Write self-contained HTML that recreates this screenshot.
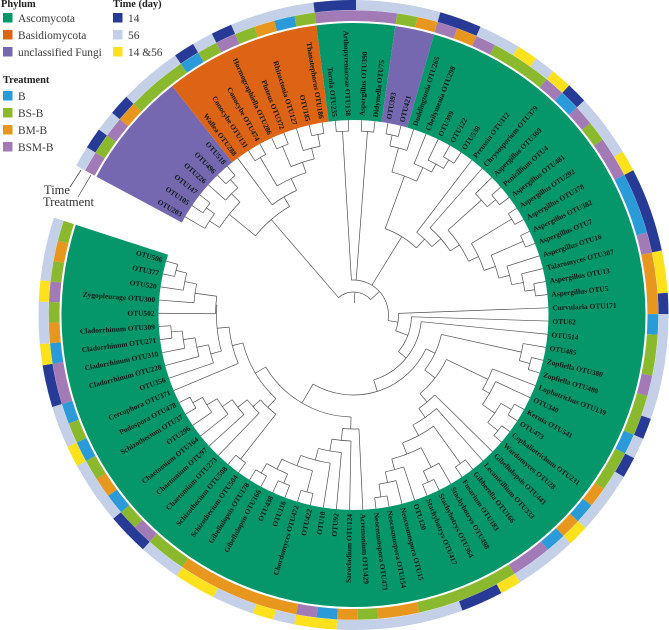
<!DOCTYPE html>
<html>
<head>
<meta charset="utf-8">
<title>Fungal OTU phylogeny</title>
<style>
html,body{margin:0;padding:0;background:#fff;}
svg{display:block;}
.leg{font-family:"Liberation Serif",serif;font-size:11.4px;fill:#3a3a3a;}
.legt{font-family:"Liberation Serif",serif;font-size:10.4px;font-weight:bold;fill:#222;}
.tip{font-family:"Liberation Serif",serif;font-size:7.4px;font-weight:bold;fill:#0c1a14;}
.note{font-family:"Liberation Serif",serif;font-size:12.5px;fill:#333;}
</style>
</head>
<body>
<svg id="chart" width="669" height="630" viewBox="0 0 669 630" xmlns="http://www.w3.org/2000/svg">
  <rect width="669" height="630" fill="#fff"/>
  <g id="sectors"></g>
  <g id="treatRing"></g>
  <g id="timeRing"></g>
  <g id="labels"></g>
  <g id="tree" fill="none" stroke="#505050" stroke-width="0.7"></g>

  <g>
    <line x1="81" y1="170" x2="70" y2="187" stroke="#444" stroke-width=".7"/>
    <line x1="91" y1="175" x2="78" y2="197" stroke="#444" stroke-width=".7"/>
    <text class="note" x="44" y="194">Time</text>
    <text class="note" x="43" y="206">Treatment</text>
  </g>

  <g>
    <text class="legt" x="1" y="7">Phylum</text>
    <rect x="3" y="13" width="9.5" height="9.5" fill="#05976a"/>
    <text class="leg" x="18" y="22">Ascomycota</text>
    <rect x="3" y="30" width="9.5" height="9.5" fill="#dd6414"/>
    <text class="leg" x="18" y="39">Basidiomycota</text>
    <rect x="3" y="47" width="9.5" height="9.5" fill="#7568b1"/>
    <text class="leg" x="18" y="56">unclassified Fungi</text>
  </g>
  <g>
    <text class="legt" x="113" y="7">Time (day)</text>
    <rect x="113" y="13" width="9.5" height="9.5" fill="#263a96"/>
    <text class="leg" x="128" y="22">14</text>
    <rect x="113" y="30" width="9.5" height="9.5" fill="#c3d0e8"/>
    <text class="leg" x="128" y="39">56</text>
    <rect x="113" y="47" width="9.5" height="9.5" fill="#fde11c"/>
    <text class="leg" x="128" y="56">14 &amp;56</text>
  </g>
  <g>
    <text class="legt" x="3" y="83">Treatment</text>
    <rect x="3" y="91" width="9.5" height="9.5" fill="#2a9bd8"/>
    <text class="leg" x="18" y="100">B</text>
    <rect x="3" y="108" width="9.5" height="9.5" fill="#8bb92e"/>
    <text class="leg" x="18" y="117">BS-B</text>
    <rect x="3" y="125" width="9.5" height="9.5" fill="#e8971e"/>
    <text class="leg" x="18" y="134">BM-B</text>
    <rect x="3" y="142" width="9.5" height="9.5" fill="#a27ab5"/>
    <text class="leg" x="18" y="151">BSM-B</text>
  </g>
</svg>

<script>
// ---- data ----
const tipNames = [
"OTU203","OTU105","OTU147","OTU226","OTU496","OTU518",
"Wallea OTU288","Conocybe OTU131","Conocybe OTU474","Hormographiella OTU286","Pluteus OTU372","Rhizoctonia OTU127","OTU185","Thanatephorus OTU186",
"Torula OTU235","Arthopyreniaceae OTU138","Aspergillus OTU390","Didymella OTU75",
"OTU393","OTU421",
"Duddingtonia OTU265","Cheilymenia OTU298","OTU399","OTU122","OTU538","Preussia OTU112","Chrysosporium OTU379","Aspergillus OTU369","Penicillium OTU4","Aspergillus OTU481","Aspergillus OTU292","Aspergillus OTU378","Aspergillus OTU382","Aspergillus OTU7","Aspergillus OTU16","Talaromyces OTU307","Aspergillus OTU13","Aspergillus OTU5","Curvularia OTU171","OTU62","OTU514","OTU485","Zopfiella OTU380","Zopfiella OTU480","Lophotrichus OTU139","OTU340","Kernia OTU541","OTU473","Cephaliotrichum OTU231","Wardomyces OTU28","Gibellulopsis OTU441","Lecanicillium OTU333","Gibberella OTU166","Fusarium OTU183","Stachybotrys OTU498","Stachybotrys OTU364","Stachybotrys OTU417","OTU120","Neocosmospora OTU15","Neocosmospora OTU154","Neocosmospora OTU471","Acremonium OTU429","Sarocladium OTU124","OTU92","OTU10","OTU422","Chordomyces OTU472","OTU116","OTU438","Gibellulopsis OTU166","Gibellulopsis OTU178","Schizothecium OTU504","Schizothecium OTU508","Chaetomium OTU273","Chaetomium OTU97","Chaetomium OTU164","OTU296","Schizothecium OTU37","Podospora OTU478","Cercophora OTU371","OTU356","Cladorrhinum OTU228","Cladorrhinum OTU310","Cladorrhinum OTU271","Cladorrhinum OTU309","OTU502","Zygopleurage OTU300","OTU520","OTU377","OTU506"];

const phylumValues = [
"U","U","U","U","U","U",
"B","B","B","B","B","B","B","B",
"A","A","A","A",
"U","U",
"A","A","A","A","A","A","A","A","A","A","A","A","A","A","A","A","A","A","A","A",
"A","A","A","A","A","A","A","A","A","A","A","A","A","A","A","A","A","A","A","A",
"A","A","A","A","A","A","A","A","A","A","A","A","A","A","A","A","A","A","A","A",
"A","A","A","A","A","A","A","A","A","A"];

const treatmentValues = [
"BSM","BS","BSM","BM","BS","BS","BS","B","BS","BSM",
"BS","BM","B","BS","BSM","BSM","BSM","BSM","BS","BM",
"BSM","BM","BSM","BS","BS","BS","BSM","B","BSM","BS",
"BSM","BSM","B","B","B","BSM","BM","BM","BM","B",
"BS","BS","BSM","BS","BS","B","BS","BS","BM","B",
"BM","B","BSM","BSM","BS","BS","BS","BS","BS","BM",
"BM","BS","BM","B","BSM","BM","BM","BM","BM","BM",
"BM","BS","BS","BSM","BS","B","BM","BS","B","BS",
"B","BSM","BSM","B","BM","BS","BSM","BS","BM","BS"];

const timeValues = [
"56","14","56","14","56","56","56","14","56","14",
"56","56","56","56","14","14","56","56","56","56",
"14","14","56","56","both","56","both","14","56","56",
"56","both","14","14","14","14","both","both","14","56",
"56","56","56","56","14","56","14","56","56","56",
"both","56","56","56","both","14","14","56","56","56",
"56","56","56","both","both","56","both","56","56","both",
"both","56","56","14","14","56","56","56","both","56",
"56","14","14","both","56","56","both","56","56","56"];

// Tree: [branch depth, child, child...]; a numeric child is an index into tipNames.
const purpleClade = [160,[172,0,[182,1,2]],[172,3,[183,4,5]]];
const orangeClade = [137,6,[150,[183,7,8],[161,[183,9,10],[172,11,[184,12,13]]]]];
const leftClade = [126,purpleClade,orangeClade];
const upperClade = [92,
  [148,[173,[184,18,19],20],[163,21,[172,22,[182,23,24]]]],
  [104,25,[116,26,[127,[172,27,[183,28,29]],[138,[185,30,31],[150,[185,32,33],[161,34,[173,35,[183,36,37]]]]]]]]];
const clade103 = [103,
  [149,44,[157,45,[172,[184,46,47],[185,48,49]]]],
  [114,50,[125,51,[137,[183,52,53],[149,[171,54,[183,55,56]],[160,57,[171,58,[184,59,60]]]]]]]];
const clade90 = [90,[172,41,[183,42,43]],clade103];
const bottomClade = [114,61,[126,62,[138,63,[150,64,[161,[183,65,66],[172,[182,67,68],[183,69,70]]]]]]];
const chaetClade = [126,[183,71,72],[136,73,[148,74,[160,75,[172,76,[183,77,78]]]]]];
const cladoClade = [148,80,[160,81,[172,82,[183,83,84]]]];
const zygoClade = [160,86,[172,87,[183,88,89]]];
const sordClade = [125,79,[137,cladoClade,[138,85,zygoClade]]];
const clade102 = [102,bottomClade,[114,chaetClade,sordClade]];
const clade80 = [80,clade90,clade102];
const clade45 = [45,38,[58,39,[68,40,clade80]]];
const clade35 = [35,[184,14,15],[184,16,17],upperClade,clade45];
const treeRoot = [23,leftClade,clade35];
const rootStem = 12;

// ---- styles and scales ----
const phylumColors = {A:"#05976a",B:"#dd6414",U:"#7568b1"};
const treatmentColors = {B:"#2a9bd8",BS:"#8bb92e",BM:"#e8971e",BSM:"#a27ab5"};
const timeColors = {"14":"#263a96","56":"#c3d0e8","both":"#fde11c"};
const CX = 353.5, CY = 315;
const START = 298.3, SWEEP = 349.7;
const R_IN = 195, R_SEC = 292, R_T0 = 294, R_T1 = 304.8, R_D0 = 305, R_D1 = 315;
const SVGNS = "http://www.w3.org/2000/svg";
const step = SWEEP / tipNames.length;

function tipEdge(i){ return START + i * step; }
function tipAngle(i){ return START + (i + 0.5) * step; }
function depthAxis(d){ return d; }
function px(r,a){ return CX + r * Math.sin(a * Math.PI / 180); }
function py(r,a){ return CY - r * Math.cos(a * Math.PI / 180); }
function f(n){ return n.toFixed(2); }

function sectorPath(r0,r1,a0,a1){
  const large = (a1 - a0) > 180 ? 1 : 0;
  return "M"+f(px(r1,a0))+" "+f(py(r1,a0))+
         "A"+r1+" "+r1+" 0 "+large+" 1 "+f(px(r1,a1))+" "+f(py(r1,a1))+
         "L"+f(px(r0,a1))+" "+f(py(r0,a1))+
         "A"+r0+" "+r0+" 0 "+large+" 0 "+f(px(r0,a0))+" "+f(py(r0,a0))+"Z";
}

function drawBand(parentId,values,colors,r0,r1,prefix){
  const parent = document.getElementById(parentId);
  let i = 0;
  while(i < values.length){
    let j = i;
    while(j + 1 < values.length && values[j + 1] === values[i]) j++;
    const p = document.createElementNS(SVGNS,"path");
    p.setAttribute("d",sectorPath(r0,r1,tipEdge(i),tipEdge(j + 1)));
    p.setAttribute("fill",colors[values[i]]);
    
    
    parent.appendChild(p);
    i = j + 1;
  }
}

drawBand("sectors",phylumValues,phylumColors,R_IN,R_SEC,"phylum");
drawBand("treatRing",treatmentValues,treatmentColors,R_T0,R_T1,"treatment");
drawBand("timeRing",timeValues,timeColors,R_D0,R_D1,"time");

// ---- labels ----
const labelGroup = document.getElementById("labels");
tipNames.forEach(function(name,i){
  const a = tipAngle(i) % 360;
  const t = document.createElementNS(SVGNS,"text");
  t.setAttribute("class","tip");
  t.setAttribute("dy","0.35em");
  if(a < 180){
    t.setAttribute("transform","translate("+CX+" "+CY+") rotate("+f(a-90)+") translate(199 0)");
    t.setAttribute("text-anchor","start");
  } else {
    t.setAttribute("transform","translate("+CX+" "+CY+") rotate("+f(a+90)+") translate(-199 0)");
    t.setAttribute("text-anchor","end");
  }
  
  
  t.textContent = name;
  labelGroup.appendChild(t);
});

// ---- tree ----
const treeGroup = document.getElementById("tree");
function addBranch(d,nameText){
  const p = document.createElementNS(SVGNS,"path");
  p.setAttribute("d",d);
  
  
  treeGroup.appendChild(p);
}
function radial(r0,r1,a,nameText){
  addBranch("M"+f(px(r0,a))+" "+f(py(r0,a))+"L"+f(px(r1,a))+" "+f(py(r1,a)),nameText);
}
function drawNode(node){
  const r = depthAxis(node[0]);
  const angles = [];
  for(let k = 1; k < node.length; k++){
    const c = node[k];
    if(typeof c === "number"){
      const a = tipAngle(c);
      radial(r,R_IN,a,"tip-branch-" + c);
      angles.push(a);
    } else {
      const a = drawNode(c);
      radial(r,depthAxis(c[0]),a,"inner-branch");
      angles.push(a);
    }
  }
  const a0 = angles[0], a1 = angles[angles.length - 1];
  addBranch("M"+f(px(r,a0))+" "+f(py(r,a0))+"A"+r+" "+r+" 0 "+((a1-a0)>180?1:0)+" 1 "+f(px(r,a1))+" "+f(py(r,a1)),"node-arc");
  return (a0 + a1) / 2;
}
const rootAngle = drawNode(treeRoot);
radial(depthAxis(rootStem),depthAxis(treeRoot[0]),rootAngle,"root-stem");
</script>
</body>
</html>
